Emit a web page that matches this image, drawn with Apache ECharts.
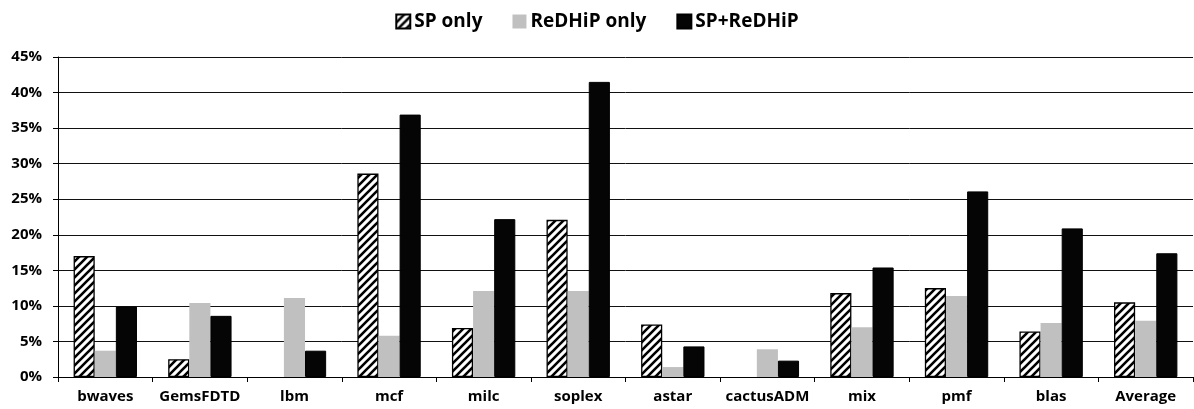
<!DOCTYPE html>
<html>
<head>
<meta charset="utf-8">
<script src="https://cdn.jsdelivr.net/npm/echarts@6/dist/echarts.min.js"></script>
<style>html,body{margin:0;padding:0;background:#fff}#c{width:1194px;height:409px}</style>
</head>
<body>
<div id="c"></div>
<script>
const categories = ['bwaves','GemsFDTD','lbm','mcf','milc','soplex','astar','cactusADM','mix','pmf','blas','Average'];
const seriesNames = ['SP only','ReDHiP only','SP+ReDHiP'];
const spOnly     = [17.0, 2.5, 0.0, 28.6, 6.9, 22.1, 7.4, -0.15, 11.8, 12.5, 6.4, 10.5];
const redhipOnly = [3.7, 10.4, 11.1, 5.8, 12.1, 12.1, 1.4, 3.9, 7.0, 11.4, 7.6, 7.9];
const spRedhip   = [9.9, 8.6, 3.7, 36.9, 22.2, 41.5, 4.3, 2.3, 15.4, 26.1, 20.9, 17.4];
const yTicks = [0,5,10,15,20,25,30,35,40,45];

const FONT = '"Open Sans"';
// hatch pattern
const pc = document.createElement('canvas');
pc.width = 8; pc.height = 8;
const g = pc.getContext('2d');
g.fillStyle = '#fff'; g.fillRect(0,0,8,8);
g.strokeStyle = '#000'; g.lineWidth = 2.6; g.lineCap = 'square';
g.beginPath();
g.moveTo(-2,10); g.lineTo(10,-2);
g.moveTo(-2,2); g.lineTo(2,-2);
g.moveTo(6,10); g.lineTo(10,6);
g.stroke();
const hatch = {image: pc, repeat: 'repeat'};

const chart = echarts.init(document.getElementById('c'), null, {renderer:'canvas'});
chart.setOption({
  animation: false,
  textStyle: {fontFamily: FONT},
  legend: {
    top: 7, left: 'center',
    icon: 'rect',
    itemWidth: 14, itemHeight: 14, itemGap: 30,
    textStyle: {fontFamily: FONT, fontWeight: 'bold', fontSize: 19, color: '#000', padding: [0,0,0,-1]},
    data: seriesNames
  },
  grid: {left: 58, right: 1, top: 57, bottom: 32, containLabel: false},
  xAxis: {
    type: 'category', data: categories,
    axisLine: {lineStyle: {color: '#000', width: 1}},
    axisTick: {show: true, length: 5, lineStyle: {color: '#000'}},
    axisLabel: {fontFamily: FONT, fontWeight: 'bold', fontSize: 15, color: '#000', margin: 12, interval: 0}
  },
  yAxis: {
    type: 'value', min: 0, max: 45, interval: 5,
    axisLine: {show: true, lineStyle: {color: '#000', width: 1}},
    axisTick: {show: true, length: 5, lineStyle: {color: '#000'}},
    axisLabel: {fontFamily: FONT, fontWeight: 'bold', fontSize: 15, color: '#000', margin: 16,
      formatter: v => yTicks.includes(v) ? v + '%' : ''},
    splitLine: {lineStyle: {color: '#111', width: 1}}
  },
  series: [
    {name: seriesNames[0], type: 'bar', barGap: '0%', barCategoryGap: '33%',
     data: spOnly.map(v => v === 0 ? {value: v, itemStyle: {borderWidth: 0}} : v),
     itemStyle: {color: hatch, borderColor: '#000', borderWidth: 1.3}},
    {name: seriesNames[1], type: 'bar', data: redhipOnly,
     itemStyle: {color: '#c0c0c0'}},
    {name: seriesNames[2], type: 'bar', data: spRedhip,
     itemStyle: {color: '#050505', borderColor: '#000', borderWidth: 1}}
  ]
});
</script>
</body>
</html>
